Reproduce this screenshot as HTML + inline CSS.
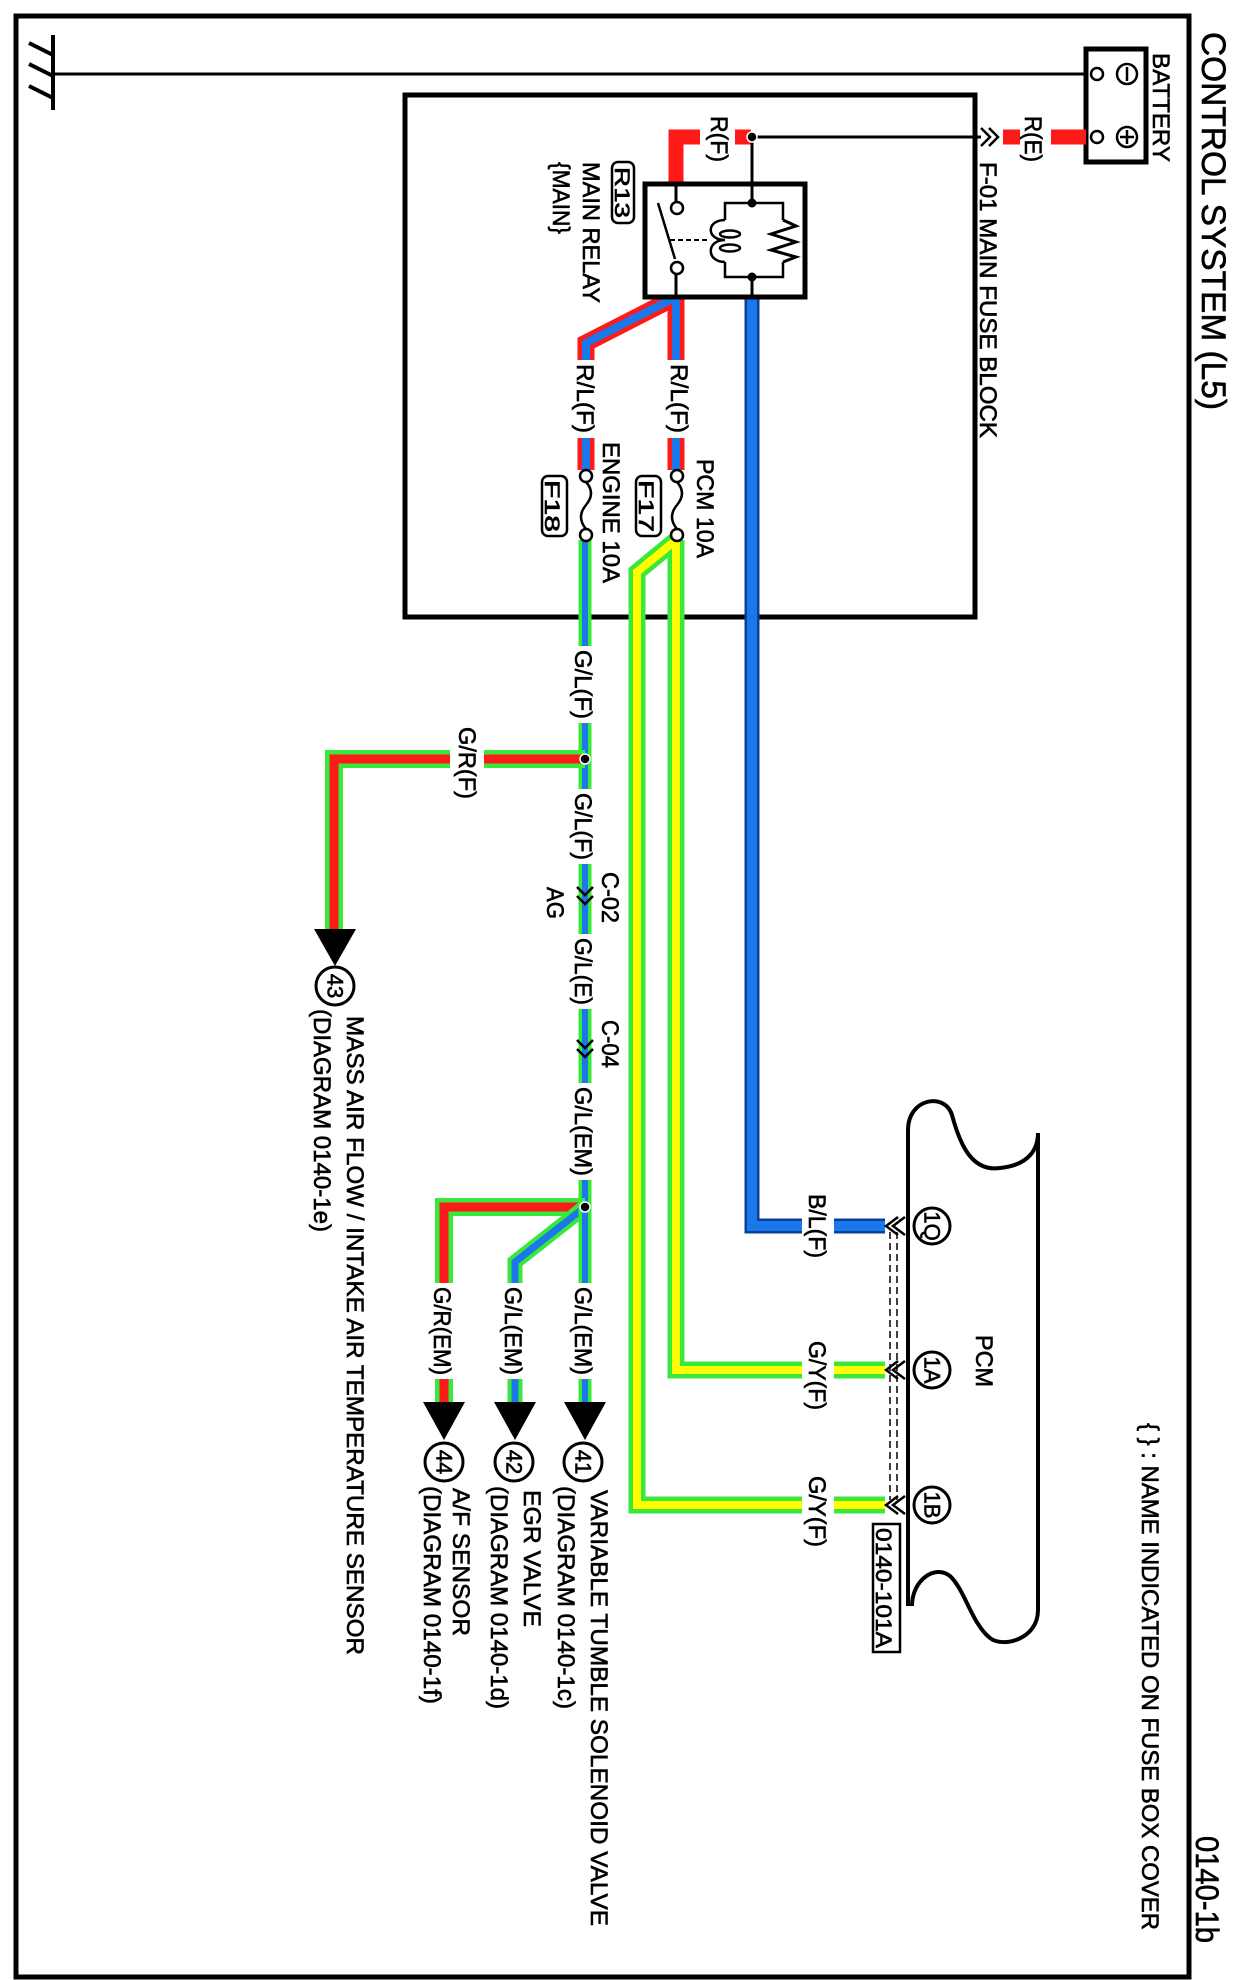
<!DOCTYPE html>
<html><head><meta charset="utf-8"><style>
html,body{margin:0;padding:0;background:#fff}
svg{display:block}
text{font-family:"Liberation Sans",Arial,sans-serif;fill:#000;stroke:#000;stroke-width:0.6}
</style></head><body>
<svg width="1233" height="1980" viewBox="0 0 1233 1980" xmlns="http://www.w3.org/2000/svg">
<rect x="16" y="16" width="1173" height="1961" fill="none" stroke="#000" stroke-width="5"/>
<!-- ground -->
<line x1="53" y1="35" x2="53" y2="110" stroke="#000" stroke-width="4"/>
<line x1="29" y1="43" x2="53" y2="55" stroke="#000" stroke-width="4"/>
<line x1="29" y1="64" x2="53" y2="76" stroke="#000" stroke-width="4"/>
<line x1="29" y1="86" x2="53" y2="98" stroke="#000" stroke-width="4"/>
<line x1="53" y1="74" x2="1091" y2="74" stroke="#000" stroke-width="3"/>
<!-- battery -->
<rect x="1086" y="49" width="60" height="113" fill="#fff" stroke="#000" stroke-width="5"/>
<circle cx="1097" cy="74" r="6" fill="#fff" stroke="#000" stroke-width="2.5"/>
<circle cx="1097" cy="137" r="6" fill="#fff" stroke="#000" stroke-width="2.5"/>
<circle cx="1127" cy="74" r="10" fill="#fff" stroke="#000" stroke-width="2.5"/>
<line x1="1127" y1="67" x2="1127" y2="81" stroke="#000" stroke-width="2.5"/>
<circle cx="1127" cy="137" r="10" fill="#fff" stroke="#000" stroke-width="2.5"/>
<line x1="1127" y1="130" x2="1127" y2="144" stroke="#000" stroke-width="2.5"/>
<line x1="1120" y1="137" x2="1134" y2="137" stroke="#000" stroke-width="2.5"/>
<!-- R(E) red -->
<line x1="1003" y1="137" x2="1086" y2="137" stroke="#ff1a1a" stroke-width="15"/>
<rect x="1020" y="126" width="31" height="22" fill="#fff"/>
<polyline points="981,128 990,137 981,146" fill="none" stroke="#000" stroke-width="2.5"/>
<polyline points="989,128 998,137 989,146" fill="none" stroke="#000" stroke-width="2.5"/>
<!-- fuse block -->
<rect x="405" y="95" width="570" height="522" fill="none" stroke="#000" stroke-width="5"/>
<line x1="752" y1="137" x2="981" y2="137" stroke="#000" stroke-width="3"/>
<polyline points="751,137 676,137 676,186" fill="none" stroke="#ff1a1a" stroke-width="15"/>
<rect x="700" y="125" width="35" height="24" fill="#fff"/>
<line x1="752" y1="137" x2="752" y2="203" stroke="#000" stroke-width="3"/>
<circle cx="752" cy="137" r="5" fill="#000" stroke="#fff" stroke-width="1.5"/>
<!-- B/L wire -->
<polyline points="752,297 752,1226 885,1226" fill="none" stroke="#0a3f9e" stroke-width="15"/>
<polyline points="752,297 752,1226 885,1226" fill="none" stroke="#1a78ea" stroke-width="10"/>
<!-- R/L wires -->
<polyline points="676,297 676,470" fill="none" stroke="#ff1a1a" stroke-width="17"/>
<polyline points="676,297 586,343 586,470" fill="none" stroke="#ff1a1a" stroke-width="17"/>
<polyline points="676,297 676,470" fill="none" stroke="#1a78ea" stroke-width="8"/>
<polyline points="676,297 586,343 586,470" fill="none" stroke="#1a78ea" stroke-width="8"/>
<!-- relay -->
<rect x="645" y="184" width="160" height="113" fill="#fff" stroke="#000" stroke-width="5"/>
<line x1="676" y1="184" x2="676" y2="202" stroke="#000" stroke-width="3"/>
<line x1="676" y1="274" x2="676" y2="297" stroke="#000" stroke-width="3"/>
<circle cx="677" cy="208" r="6" fill="#fff" stroke="#000" stroke-width="2.5"/>
<circle cx="677" cy="268" r="6" fill="#fff" stroke="#000" stroke-width="2.5"/>
<line x1="658" y1="203" x2="675" y2="259" stroke="#000" stroke-width="2.5"/>
<line x1="670" y1="240" x2="710" y2="240" stroke="#000" stroke-width="2" stroke-dasharray="5,3"/>
<polyline points="725,220 725,203 783,203 783,220" fill="none" stroke="#000" stroke-width="2.5"/>
<polyline points="725,262 725,277 783,277 783,262" fill="none" stroke="#000" stroke-width="2.5"/>
<path d="M725,220 C706,220 706,240 725,240 C706,240 706,262 725,262" fill="none" stroke="#000" stroke-width="2.5"/>
<ellipse cx="730" cy="234" rx="10" ry="3.5" fill="none" stroke="#000" stroke-width="2.5"/>
<ellipse cx="730" cy="248" rx="10" ry="3.5" fill="none" stroke="#000" stroke-width="2.5"/>
<polyline points="783,220 796,226 771,234 796,242 771,250 796,257 783,262" fill="none" stroke="#000" stroke-width="3"/>
<circle cx="752" cy="203" r="4.5" fill="#000"/>
<circle cx="752" cy="277" r="4.5" fill="#000"/>
<line x1="752" y1="184" x2="752" y2="203" stroke="#000" stroke-width="3"/>
<line x1="752" y1="277" x2="752" y2="297" stroke="#000" stroke-width="3"/>
<!-- G/Y wires -->
<polyline points="676,540 676,1370 885,1370" fill="none" stroke="#3ae83a" stroke-width="17"/>
<polyline points="676,540 637,572 637,1505 885,1505" fill="none" stroke="#3ae83a" stroke-width="17"/>
<polyline points="676,540 676,1370 885,1370" fill="none" stroke="#ffff00" stroke-width="8"/>
<polyline points="676,540 637,572 637,1505 885,1505" fill="none" stroke="#ffff00" stroke-width="8"/>
<!-- G/L main -->
<polyline points="585,540 585,1402" fill="none" stroke="#3ae83a" stroke-width="13"/>
<polyline points="585,540 585,1402" fill="none" stroke="#1a78ea" stroke-width="6"/>
<!-- G/R upper -->
<polyline points="585,759 334,759 334,930" fill="none" stroke="#3ae83a" stroke-width="18"/>
<polyline points="585,759 334,759 334,930" fill="none" stroke="#ff1a1a" stroke-width="9"/>
<!-- lower branches -->
<polyline points="585,1207 444,1207 444,1402" fill="none" stroke="#3ae83a" stroke-width="18"/>
<polyline points="585,1207 444,1207 444,1402" fill="none" stroke="#ff1a1a" stroke-width="9"/>
<polyline points="585,1207 515,1262 515,1402" fill="none" stroke="#3ae83a" stroke-width="15"/>
<polyline points="585,1207 515,1262 515,1402" fill="none" stroke="#1a78ea" stroke-width="7"/>
<polyline points="585,1207 585,1402" fill="none" stroke="#3ae83a" stroke-width="13"/>
<polyline points="585,1207 585,1402" fill="none" stroke="#1a78ea" stroke-width="6"/>
<circle cx="585" cy="759" r="5" fill="#000" stroke="#fff" stroke-width="1.5"/>
<circle cx="585" cy="1207" r="5" fill="#000" stroke="#fff" stroke-width="1.5"/>
<!-- white label gaps -->
<g fill="#fff">
<rect x="660" y="360" width="34" height="78"/>
<rect x="570" y="360" width="34" height="78"/>
<rect x="568" y="646" width="30" height="77"/>
<rect x="450" y="740" width="34" height="64"/>
<rect x="568" y="789" width="30" height="75"/>
<rect x="568" y="934" width="30" height="75"/>
<rect x="568" y="1083" width="30" height="97"/>
<rect x="568" y="1283" width="30" height="96"/>
<rect x="498" y="1283" width="30" height="96"/>
<rect x="427" y="1283" width="30" height="96"/>
<rect x="802" y="1190" width="32" height="72"/>
<rect x="802" y="1337" width="32" height="77"/>
<rect x="802" y="1472" width="32" height="79"/>
</g>
<!-- chevrons -->
<g fill="none" stroke="#000" stroke-width="2.5">
<polyline points="577,887 585,895 593,887"/>
<polyline points="577,896 585,904 593,896"/>
<polyline points="577,1040 585,1048 593,1040"/>
<polyline points="577,1049 585,1057 593,1049"/>
<polyline points="898,1217 886,1226 898,1235"/>
<polyline points="905,1217 893,1226 905,1235"/>
<polyline points="898,1361 886,1370 898,1379"/>
<polyline points="905,1361 893,1370 905,1379"/>
<polyline points="898,1496 886,1505 898,1514"/>
<polyline points="905,1496 893,1505 905,1514"/>
</g>
<line x1="890" y1="1232" x2="890" y2="1500" stroke="#000" stroke-width="1.5" stroke-dasharray="7,4"/>
<line x1="897" y1="1232" x2="897" y2="1500" stroke="#000" stroke-width="1.5" stroke-dasharray="7,4"/>
<!-- fuses -->
<g fill="#fff" stroke="#000" stroke-width="2.5">
<circle cx="677" cy="476" r="6"/><circle cx="677" cy="535" r="6"/>
<circle cx="586" cy="476" r="6"/><circle cx="586" cy="535" r="6"/>
</g>
<path d="M677,482 q10,11 0,23 q-10,12 0,24" fill="none" stroke="#000" stroke-width="2.5"/>
<path d="M586,482 q10,11 0,23 q-10,12 0,24" fill="none" stroke="#000" stroke-width="2.5"/>
<rect x="636" y="476" width="25" height="60" rx="6" fill="#fff" stroke="#000" stroke-width="2.5"/>
<rect x="542" y="476" width="25" height="60" rx="6" fill="#fff" stroke="#000" stroke-width="2.5"/>
<rect x="612" y="162" width="22" height="61" rx="6" fill="#fff" stroke="#000" stroke-width="2.5"/>
<!-- arrows & circles -->
<g fill="#000">
<polygon points="314,929 356,929 335,966"/>
<polygon points="564,1402 606,1402 585,1440"/>
<polygon points="494,1402 536,1402 515,1440"/>
<polygon points="423,1402 465,1402 444,1440"/>
</g>
<g fill="#fff" stroke="#000" stroke-width="3">
<circle cx="335" cy="986" r="19"/>
<circle cx="583" cy="1462" r="19"/>
<circle cx="514" cy="1462" r="19"/>
<circle cx="444" cy="1462" r="19"/>
<circle cx="932" cy="1226" r="18"/>
<circle cx="932" cy="1370" r="18"/>
<circle cx="932" cy="1505" r="18"/>
</g>
<!-- PCM -->
<path d="M908,1606 L908,1130 C908,1098 945,1092 952,1115 C960,1145 972,1172 1000,1168 C1030,1165 1038,1148 1038,1133 L1038,1610 C1038,1640 1002,1648 990,1638 C972,1624 965,1590 950,1576 C935,1564 912,1580 912,1606" fill="none" stroke="#000" stroke-width="4"/>
<rect x="873" y="1524" width="27" height="128" fill="#fff" stroke="#000" stroke-width="2.5"/>
<!-- texts -->
<g font-size="24">
<text transform="translate(1202,32) rotate(90)" font-size="34" textLength="378" lengthAdjust="spacingAndGlyphs">CONTROL SYSTEM (L5)</text>
<text transform="translate(1153,53) rotate(90)" textLength="109" lengthAdjust="spacingAndGlyphs">BATTERY</text>
<text transform="translate(1025,116) rotate(90)" textLength="46" lengthAdjust="spacingAndGlyphs">R(E)</text>
<text transform="translate(980,162) rotate(90)" textLength="276" lengthAdjust="spacingAndGlyphs">F-01 MAIN FUSE BLOCK</text>
<text transform="translate(711,116) rotate(90)" textLength="46" lengthAdjust="spacingAndGlyphs">R(F)</text>
<text transform="translate(615,167) rotate(90)" font-size="21" textLength="51" lengthAdjust="spacingAndGlyphs">R13</text>
<text transform="translate(583,162) rotate(90)" textLength="141" lengthAdjust="spacingAndGlyphs">MAIN RELAY</text>
<text transform="translate(553,162) rotate(90)" textLength="72" lengthAdjust="spacingAndGlyphs">{MAIN}</text>
<text transform="translate(671,364) rotate(90)" textLength="69" lengthAdjust="spacingAndGlyphs">R/L(F)</text>
<text transform="translate(577,364) rotate(90)" textLength="69" lengthAdjust="spacingAndGlyphs">R/L(F)</text>
<text transform="translate(697,459) rotate(90)" textLength="99" lengthAdjust="spacingAndGlyphs">PCM 10A</text>
<text transform="translate(639,480) rotate(90)" font-size="21" textLength="52" lengthAdjust="spacingAndGlyphs">F17</text>
<text transform="translate(603,442) rotate(90)" textLength="141" lengthAdjust="spacingAndGlyphs">ENGINE 10A</text>
<text transform="translate(545,480) rotate(90)" font-size="21" textLength="52" lengthAdjust="spacingAndGlyphs">F18</text>
<text transform="translate(575,650) rotate(90)" textLength="69" lengthAdjust="spacingAndGlyphs">G/L(F)</text>
<text transform="translate(459,727) rotate(90)" textLength="72" lengthAdjust="spacingAndGlyphs">G/R(F)</text>
<text transform="translate(575,793) rotate(90)" textLength="67" lengthAdjust="spacingAndGlyphs">G/L(F)</text>
<text transform="translate(602,872) rotate(90)" textLength="51" lengthAdjust="spacingAndGlyphs">C-02</text>
<text transform="translate(547,887) rotate(90)" textLength="32" lengthAdjust="spacingAndGlyphs">AG</text>
<text transform="translate(575,938) rotate(90)" textLength="67" lengthAdjust="spacingAndGlyphs">G/L(E)</text>
<text transform="translate(602,1020) rotate(90)" textLength="48" lengthAdjust="spacingAndGlyphs">C-04</text>
<text transform="translate(575,1087) rotate(90)" textLength="89" lengthAdjust="spacingAndGlyphs">G/L(EM)</text>
<text transform="translate(575,1287) rotate(90)" textLength="88" lengthAdjust="spacingAndGlyphs">G/L(EM)</text>
<text transform="translate(505,1287) rotate(90)" textLength="88" lengthAdjust="spacingAndGlyphs">G/L(EM)</text>
<text transform="translate(434,1287) rotate(90)" textLength="88" lengthAdjust="spacingAndGlyphs">G/R(EM)</text>
<text transform="translate(347,1016) rotate(90)" textLength="639" lengthAdjust="spacingAndGlyphs">MASS AIR FLOW / INTAKE AIR TEMPERATURE SENSOR</text>
<text transform="translate(314,1009) rotate(90)" textLength="223" lengthAdjust="spacingAndGlyphs">(DIAGRAM 0140-1e)</text>
<text transform="translate(809,1194) rotate(90)" textLength="64" lengthAdjust="spacingAndGlyphs">B/L(F)</text>
<text transform="translate(809,1341) rotate(90)" textLength="69" lengthAdjust="spacingAndGlyphs">G/Y(F)</text>
<text transform="translate(809,1476) rotate(90)" textLength="71" lengthAdjust="spacingAndGlyphs">G/Y(F)</text>
<text transform="translate(976,1335) rotate(90)" textLength="52" lengthAdjust="spacingAndGlyphs">PCM</text>
<text transform="translate(876,1528) rotate(90)" font-size="22" textLength="120" lengthAdjust="spacingAndGlyphs">0140-101A</text>
<text transform="translate(1142,1423) rotate(90)" textLength="507" lengthAdjust="spacingAndGlyphs">{ } : NAME INDICATED ON FUSE BOX COVER</text>
<text transform="translate(1196,1836) rotate(90)" font-size="32" textLength="107" lengthAdjust="spacingAndGlyphs">0140-1b</text>
<text transform="translate(591,1490) rotate(90)" textLength="436" lengthAdjust="spacingAndGlyphs">VARIABLE TUMBLE SOLENOID VALVE</text>
<text transform="translate(558,1486) rotate(90)" textLength="223" lengthAdjust="spacingAndGlyphs">(DIAGRAM 0140-1c)</text>
<text transform="translate(524,1490) rotate(90)" textLength="137" lengthAdjust="spacingAndGlyphs">EGR VALVE</text>
<text transform="translate(491,1486) rotate(90)" textLength="223" lengthAdjust="spacingAndGlyphs">(DIAGRAM 0140-1d)</text>
<text transform="translate(453,1488) rotate(90)" textLength="148" lengthAdjust="spacingAndGlyphs">A/F SENSOR</text>
<text transform="translate(424,1486) rotate(90)" textLength="218" lengthAdjust="spacingAndGlyphs">(DIAGRAM 0140-1f)</text>
</g>
<g font-size="22" text-anchor="middle" dominant-baseline="central">
<text transform="translate(335,986) rotate(90)">43</text>
<text transform="translate(583,1462) rotate(90)">41</text>
<text transform="translate(514,1462) rotate(90)">42</text>
<text transform="translate(444,1462) rotate(90)">44</text>
<text transform="translate(932,1226) rotate(90)">1Q</text>
<text transform="translate(932,1370) rotate(90)">1A</text>
<text transform="translate(932,1505) rotate(90)">1B</text>
</g>
</svg>
</body></html>
